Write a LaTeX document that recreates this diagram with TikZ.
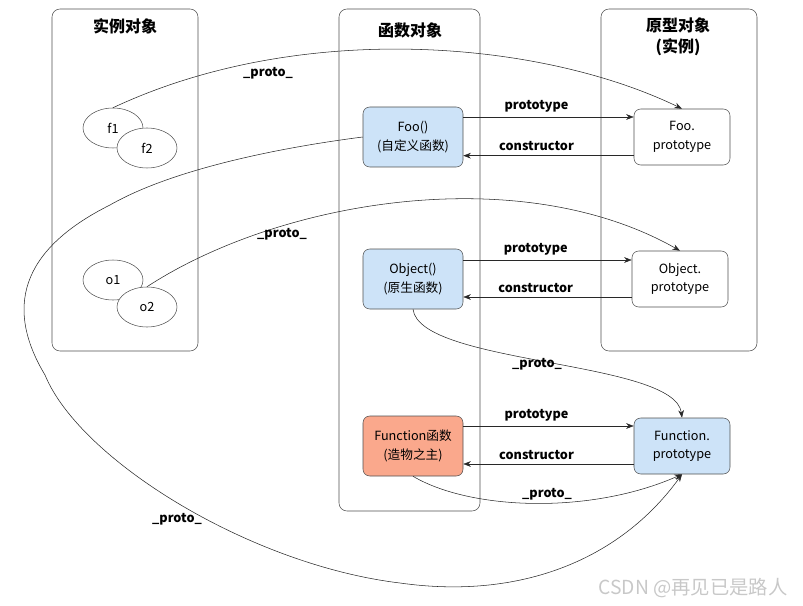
\documentclass[tikz,border=0pt]{standalone}
\usepackage{fontspec}
\setmainfont{Noto Sans CJK SC}
\usepackage{tikz}
\usetikzlibrary{shapes.geometric, arrows.meta, positioning}
\definecolor{funcblue}{RGB}{205, 227, 248}
\definecolor{funcred}{RGB}{250, 168, 140}
\definecolor{boxborder}{RGB}{80, 80, 80}
\definecolor{linecolor}{RGB}{40, 40, 40}
\definecolor{markgray}{RGB}{200, 200, 200}
\tikzstyle{group} = [rectangle, rounded corners=6pt, draw=boxborder, inner sep=0pt]
\tikzstyle{grouptitle} = [font=\fontsize{12}{16}\selectfont\bfseries, align=center]
\tikzstyle{func} = [rectangle, rounded corners=5pt, minimum width=75pt, minimum height=45pt,
                    align=center, draw=boxborder, fill=funcblue, font=\fontsize{9.5}{14}\selectfont]
\tikzstyle{proto} = [func, fill=white, minimum width=72pt, minimum height=42pt]
\tikzstyle{inst} = [ellipse, minimum width=45pt, minimum height=30pt, inner sep=0pt,
                    draw=boxborder, fill=white, font=\fontsize{9.5}{12}\selectfont]
\tikzstyle{arrow} = [-{Stealth[length=2mm]}, draw=linecolor]
\tikzstyle{lbl} = [font=\fontsize{9.5}{11}\selectfont\bfseries]

\begin{document}
\begin{tikzpicture}[x=0.75pt, y=-0.75pt]
    \useasboundingbox (0,0) rectangle (803,606);
    % Groups
    \node[group, minimum width=109.5pt, minimum height=256.5pt] (instgroup) at (125,180) {};
    \node[group, minimum width=105.75pt, minimum height=376.5pt] (funcgroup) at (409.5,260) {};
    \node[group, minimum width=117pt, minimum height=256.5pt] (protogroup) at (679,180) {};
    \node[grouptitle] (insttitle) at (125,26) {实例对象};
    \node[grouptitle] (functitle) at (410,30) {函数对象};
    \node[grouptitle] (prototitle) at (678,37) {原型对象\\(实例)};
    
    % Instances
    \node[inst] (f1) at (113,128) {f1};
    \node[inst] (f2) at (147,148) {f2};
    \node[inst] (o1) at (113,280) {o1};
    \node[inst] (o2) at (147,307) {o2};
    
    % Functions
    \node[func] (foo) at (413,137) {Foo()\\(自定义函数)};
    \node[func] (obj) at (413,279) {Object()\\(原生函数)};
    \node[func, fill=funcred] (fun) at (413,446) {Function函数\\(造物之主)};
    
    % Prototypes
    \node[proto] (fooproto) at (682,137) {Foo.\\prototype};
    \node[proto] (objproto) at (680,279) {Object.\\prototype};
    \node[proto, fill=funcblue] (funproto) at (682,446) {Function.\\prototype};
    
    % prototype / constructor
    \draw[arrow] ([yshift=15pt]foo.east) -- node[lbl, above, pos=0.43] {prototype} ([yshift=15pt]fooproto.west);
    \draw[arrow] ([yshift=-14pt]fooproto.west) -- node[lbl, above, pos=0.57] {constructor} ([yshift=-14pt]foo.east);
    \draw[arrow] ([yshift=14.25pt]obj.east) -- node[lbl, above, pos=0.43] {prototype} ([yshift=14.25pt]objproto.west);
    \draw[arrow] ([yshift=-13.5pt]objproto.west) -- node[lbl, above, pos=0.57] {constructor} ([yshift=-13.5pt]obj.east);
    \draw[arrow] ([yshift=15pt]fun.east) -- node[lbl, above, pos=0.43] {prototype} ([yshift=15pt]funproto.west);
    \draw[arrow] ([yshift=-13.5pt]funproto.west) -- node[lbl, above, pos=0.57] {constructor} ([yshift=-13.5pt]fun.east);
    
    % _proto_ chains
    \draw[arrow] (f1.north) .. controls (300,20) and (540,40) .. (fooproto.north);
    \node[lbl] (pf1) at (268,73) {\_proto\_};
    \draw[arrow] (o2.north) .. controls (280,200) and (520,160) .. (objproto.north);
    \node[lbl] (po2) at (282,234) {\_proto\_};
    \draw[arrow] (foo.west) .. controls (300,145) and (180,165) .. (110,205)
        .. controls (30,245) and (0,300) .. (45,375)
        .. controls (80,460) and (250,565) .. (400,583)
        .. controls (520,600) and (620,560) .. (funproto.south);
    \node[lbl] (pfoo) at (177,519) {\_proto\_};
    \draw[arrow] (obj.south) .. controls (420,365) and (675,360) .. (funproto.north);
    \node[lbl] (pobj) at (537,364) {\_proto\_};
    \draw[arrow] (fun.south) .. controls (470,510) and (590,515) .. (funproto.south);
    \node[lbl] (pfun) at (547,494) {\_proto\_};
    
    \node[text=markgray, font=\fontsize{14.5}{16}\selectfont] (mark) at (693,588) {CSDN @再见已是路人};
\end{tikzpicture}
\end{document}
